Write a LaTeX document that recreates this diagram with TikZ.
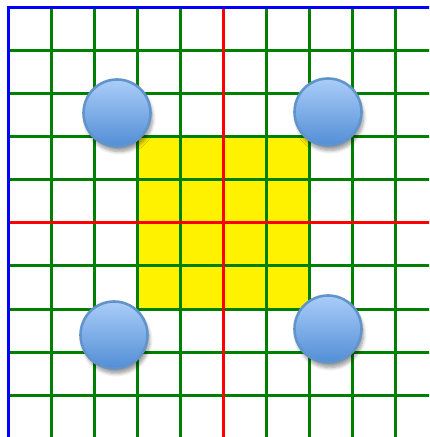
\documentclass[tikz,border=0pt]{standalone}
\usepackage{tikz}
\usetikzlibrary{shadows.blur}

\definecolor{gridgreen}{RGB}{0,128,0}
\definecolor{balltop}{RGB}{170,205,248}
\definecolor{ballbot}{RGB}{82,142,214}
\definecolor{ballrim}{RGB}{98,148,204}

\tikzset{
    gridline/.style={gridgreen, line width=1.5pt},
    axisline/.style={red, line width=1.5pt},
    frameline/.style={blue, line width=1.5pt},
    ball/.style={circle, minimum size=33.5pt, inner sep=0pt, draw=ballrim,
        line width=1.3pt, top color=balltop, bottom color=ballbot,
        blur shadow={shadow xshift=1pt, shadow yshift=-2.5pt, shadow blur steps=6, shadow opacity=40}}
}

\begin{document}
\begin{tikzpicture}[x=0.5pt, y=-0.5pt]
    \useasboundingbox (0,0) rectangle (429,437);
    \clip (0,0) rectangle (429,437);

    % gelbes Feld in der Mitte
    \fill[yellow] (137,137) rectangle (309,309);

    % Gitter
    \foreach \p in {51,94,137,180,266,309,352,395} {
        \draw[gridline] (\p,8) -- (\p,438);
        \draw[gridline] (8,\p) -- (438,\p);
    }

    % Achsen
    \draw[axisline] (223,8) -- (223,438);
    \draw[axisline] (8,223) -- (438,223);

    % Rahmen
    \draw[frameline] (8,8) rectangle (438,438);

    % Kugeln
    \node[ball] (nw) at (117,113) {};
    \node[ball] (ne) at (328,112) {};
    \node[ball] (sw) at (114,335) {};
    \node[ball] (se) at (328,329) {};
\end{tikzpicture}
\end{document}
